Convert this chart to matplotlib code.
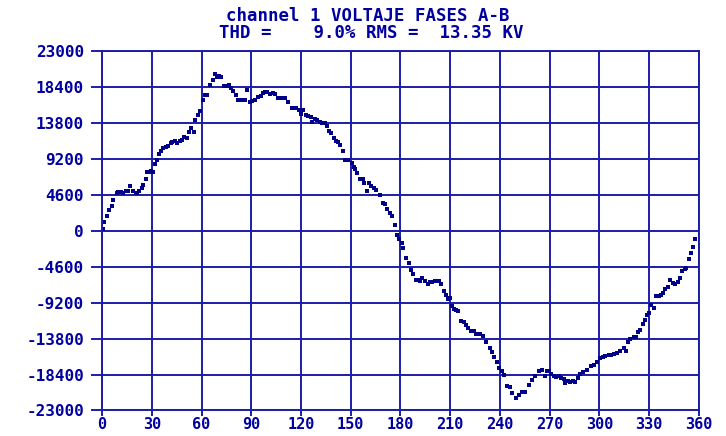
import numpy as np
import matplotlib
matplotlib.use("Agg")
import matplotlib.pyplot as plt

# phase angle (deg) and sampled line voltage (V), channel 1, phases A-B
angle = [
    0.3, 1.0, 2.8, 4.5, 6.0, 6.9, 8.8, 9.7, 10.6, 11.5, 12.7, 14.7, 15.7, 16.7, 18.5,
    20.3, 21.3, 22.5, 24.0, 24.9, 26.4, 27.2, 28.4, 29.6, 30.8, 32.2, 33.2, 34.4, 35.6,
    37.0, 38.4, 39.7, 41.5, 42.4, 44.1, 45.4, 47.1, 48.1, 49.5, 51.1, 52.3, 53.9, 55.5,
    56.3, 57.8, 59.1, 60.7, 62.2, 63.5, 65.2, 66.7, 68.0, 69.2, 70.7, 71.8, 73.3, 75.3,
    76.8, 78.0, 79.2, 80.7, 81.8, 83.3, 84.8, 86.3, 87.3, 89.0, 90.4, 92.3, 94.3, 95.7,
    97.0, 98.4, 99.4, 101.1, 102.9, 104.4, 106.4, 107.7, 108.9, 110.3, 112.2, 114.5,
    115.6, 116.8, 118.5, 120.0, 121.5, 123.0, 124.5, 126.0, 126.7, 128.7, 129.8, 131.3,
    132.7, 134.3, 135.6, 136.6, 138.2, 139.8, 141.2, 142.4, 143.6, 145.6, 146.7, 147.7,
    148.6, 150.5, 151.7, 152.4, 153.7, 155.7, 157.2, 158.1, 159.5, 161.3, 162.5, 164.0,
    165.5, 167.4, 169.4, 170.9, 172.0, 173.5, 175.1, 176.5, 177.7, 179.2, 180.8, 181.4,
    183.5, 184.9, 186.3, 187.3, 189.1, 190.5, 191.5, 192.9, 194.5, 196.3, 197.5, 199.2,
    201.0, 203.0, 204.6, 206.0, 207.2, 208.6, 209.6, 210.8, 212.0, 213.5, 214.7, 216.5,
    218.0, 219.7, 220.7, 222.5, 224.1, 225.7, 227.7, 229.8, 231.7, 233.7, 235.2, 236.6,
    238.2, 239.7, 241.0, 242.4, 244.2, 245.8, 247.4, 249.7, 251.7, 253.5, 255.1, 257.3,
    259.1, 261.0, 263.3, 265.1, 266.9, 268.1, 269.5, 271.0, 272.5, 274.0, 275.4, 276.8,
    278.4, 279.4, 280.8, 282.4, 284.1, 285.5, 287.1, 288.1, 289.9, 292.5, 295.1, 296.5,
    298.6, 300.3, 301.9, 303.6, 305.6, 307.2, 308.6, 310.6, 312.6, 314.6, 316.1, 317.0,
    318.6, 320.6, 322.1, 323.0, 324.7, 326.3, 327.3, 328.7, 329.7, 331.3, 332.7, 334.2,
    335.7, 337.2, 338.4, 339.8, 341.4, 342.8, 344.2, 345.8, 347.4, 348.4, 349.8, 351.4,
    352.4, 353.8, 355.4, 356.4, 357.8,
]
voltage = [
    190, 1130, 1900, 2670, 3220, 3950, 4910, 4940, 4940, 4940, 4810, 5110, 5110, 5750, 5110,
    4890, 4890, 5110, 5530, 5910, 6650, 7540, 7610, 7710, 7610, 8530, 9080, 9920, 10300,
    10580, 10790, 10920, 11230, 11430, 11560, 11230, 11560, 11650, 12070, 11940, 12710,
    13230, 12680, 14220, 14920, 15370, 16720, 17420, 17420, 18710, 19280, 20090, 19690,
    19860, 19690, 18620, 18620, 18740, 18320, 17960, 17420, 16720, 16720, 16720, 16720,
    18030, 16460, 16590, 16780, 17100, 17300, 17620, 17810, 17810, 17510, 17710, 17510,
    17080, 17080, 17080, 17080, 16490, 15790, 15790, 15790, 15560, 15050, 15560, 14820,
    14690, 14640, 14000, 14380, 14180, 14020, 13890, 13790, 13470, 12770, 12550, 11940,
    11550, 11350, 11010, 10260, 9110, 9110, 9110, 8700, 8190, 7930, 7380, 6650, 6650,
    6090, 5130, 6090, 5750, 5490, 5270, 4640, 3590, 3440, 2860, 2310, 1900, 810, -540,
    -1090, -1600, -2210, -3430, -4090, -5030, -5450, -6220, -6220, -6440, -6020, -6400,
    -6740, -6530, -6530, -6400, -6400, -6830, -7690, -8150, -8750, -8530, -9650, -9940,
    -10160, -10290, -11530, -11660, -12090, -12380, -12820, -12820, -13240, -13240,
    -13500, -14230, -14950, -15510, -16150, -16830, -17580, -17910, -18500, -19840,
    -20040, -20770, -21390, -20980, -20640, -20640, -19750, -19140, -18600, -17960,
    -17770, -18550, -17960, -17960, -18350, -18590, -18720, -18590, -18800, -18920,
    -19440, -19230, -19360, -19230, -19360, -18850, -18370, -18080, -17770, -17350,
    -17130, -16790, -16320, -16190, -16060, -15940, -15850, -15720, -15590, -15420,
    -14950, -15420, -14230, -13880, -13590, -13590, -12950, -12640, -11960, -11350,
    -10800, -10460, -9520, -9870, -8330, -8330, -8150, -7940, -7380, -7170, -6220,
    -6610, -6830, -6530, -6020, -5120, -4810, -4730, -3530, -2760, -2040, -1050,
]

x_ticks = np.arange(0, 361, 30)
y_ticks = [23000, 18400, 13800, 9200, 4600, 0, -4600, -9200, -13800, -18400, -23000]

title_lines = ["channel 1 VOLTAJE FASES A-B", "THD =    9.0% RMS =  13.35 KV"]

grid_color = "#1c1ca8"
text_color = "#0000a0"
dot_color = "#000088"
mono = ["DejaVu Sans Mono"]

fig = plt.figure(figsize=(7.26, 4.36), dpi=100)
ax = fig.add_axes([0.1405, 0.0585, 0.8223, 0.8235])

ax.plot(angle, voltage, linestyle="none", marker="s", markersize=2.2,
        markeredgewidth=0, color=dot_color)

ax.set_xlim(0, 360)
ax.set_ylim(-23000, 23000)
ax.set_xticks(x_ticks)
ax.set_yticks(y_ticks)
ax.set_xticklabels([str(t) for t in x_ticks])
ax.set_yticklabels([str(t) for t in y_ticks])

ax.grid(True, color=grid_color, linewidth=1.4)
ax.set_axisbelow(True)
for spine in ax.spines.values():
    spine.set_color(grid_color)
    spine.set_linewidth(1.4)

ax.tick_params(axis="y", length=8, width=1.4, color=grid_color, pad=5,
               labelcolor=text_color)
ax.tick_params(axis="x", length=4.5, width=1.4, color=grid_color, pad=0.5,
               labelcolor=text_color)
for lbl in ax.get_yticklabels():
    lbl.set_family(mono)
    lbl.set_fontweight("bold")
    lbl.set_fontsize(11.5)
for lbl in ax.get_xticklabels():
    lbl.set_family(mono)
    lbl.set_fontweight("bold")
    lbl.set_fontsize(11)

fig.text(0.507, 0.963, title_lines[0], ha="center", va="center", family=mono,
         fontweight="bold", fontsize=12.5, color=text_color)
fig.text(0.512, 0.924, title_lines[1], ha="center", va="center", family=mono,
         fontweight="bold", fontsize=12.5, color=text_color)

fig.savefig("out.png", dpi=100)
